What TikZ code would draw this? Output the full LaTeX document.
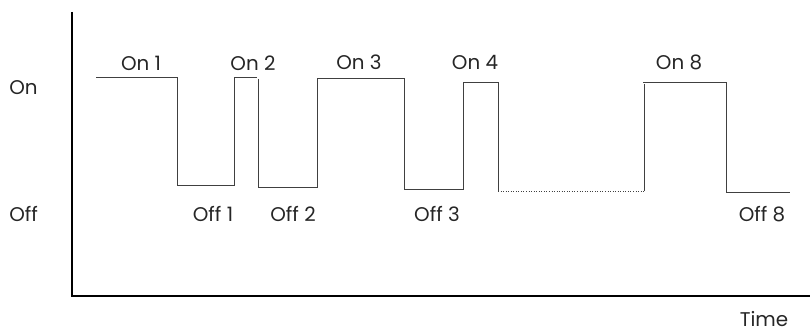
\documentclass[tikz,border=0pt]{standalone}
\usepackage{fontspec}
\setmainfont{Poppins}
\usepackage{tikz}
\usetikzlibrary{positioning,calc}

\begin{document}
\begin{tikzpicture}[x=0.02cm, y=-0.02cm, font=\fontsize{11.3}{13}\selectfont]
\tikzset{
  axis/.style={line width=0.9pt, black},
  wave/.style={line width=0.45pt, black!75},
  lbl/.style={inner sep=0pt, text=black!85}
}
\useasboundingbox (0,0) rectangle (810,331);
% axes
\draw[axis] (72,12) -- (72,296) -- (810,296);
% levels
\node[lbl, anchor=west] (lon) at (9,88) {On};
\node[lbl, anchor=west] (loff) at (9,214) {Off};
\node[lbl, anchor=base] (time) at (764,326) {Time};
% on/off waveform
\draw[wave] (96,77) -- (177,77) -- (177,185) -- (234,185) -- (234,77) -- (257,77);
\draw[wave] (258,79) -- (258,187) -- (317,187) -- (317,78) -- (404,78) -- (404,189)
  -- (463,189) -- (463,82) -- (498,82) -- (498,191);
\draw[wave, densely dotted] (498,191) -- (644,191);
\draw[wave] (644,191) -- (644,84);
\draw[wave] (643,82) -- (726,82) -- (726,192) -- (790,192);
% switching labels
\node[lbl] (on1) at (141,63) {On 1};
\node[lbl] (on2) at (253,63) {On 2};
\node[lbl] (on3) at (359,62) {On 3};
\node[lbl] (on4) at (475,62) {On 4};
\node[lbl] (on8) at (679,62) {On 8};
\node[lbl] (off1) at (213,214) {Off 1};
\node[lbl] (off2) at (293,214) {Off 2};
\node[lbl] (off3) at (437,214) {Off 3};
\node[lbl] (off8) at (762,214) {Off 8};
\end{tikzpicture}
\end{document}
